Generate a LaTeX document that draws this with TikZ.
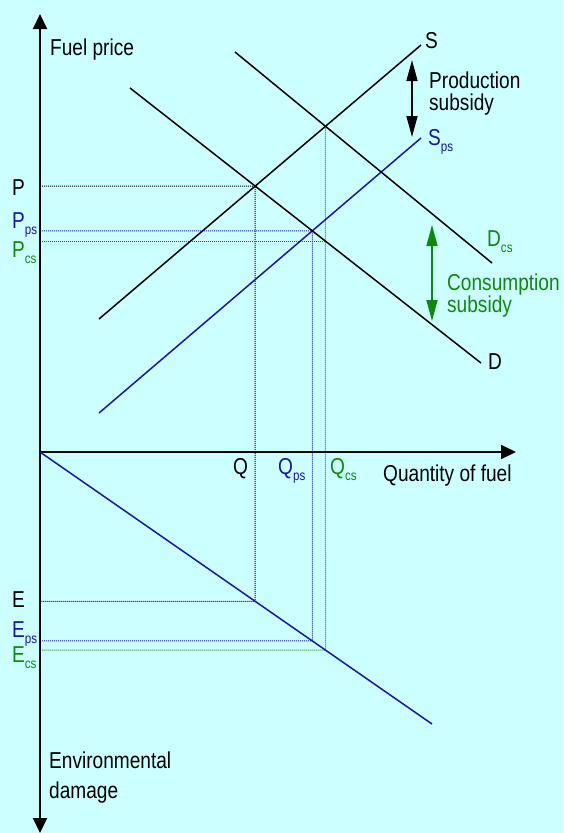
\documentclass[tikz,border=0pt]{standalone}
\usepackage{fontspec}
\setmainfont{Liberation Sans}[FakeStretch=0.83]
\usetikzlibrary{arrows.meta}
\definecolor{bgcyan}{RGB}{204,255,255}
\definecolor{psblue}{RGB}{24,24,160}
\definecolor{csgreen}{RGB}{16,136,16}
\newcommand{\lowsub}[1]{\raisebox{-6pt}{\fontsize{14}{14}\selectfont #1}}
\tikzset{
  bigtip/.tip={Triangle[length=15pt,width=14pt]},
  subtip/.tip={Triangle[length=21pt,width=11pt]},
  axis/.style={line width=2pt},
  curve/.style={line width=1.5pt},
  guide/.style={line width=1pt,dash pattern=on 1pt off 1pt},
  subsidy/.style={line width=1.5pt,subtip-subtip},
  lbl/.style={anchor=base west,inner sep=0pt,align=left,font=\fontsize{23}{22}\selectfont},
}

\begin{document}
\begin{tikzpicture}[x=1pt,y=-1pt]
        \useasboundingbox (0,0) rectangle (563,833);
        \fill[bgcyan] (0,0) rectangle (563,833);
        % curve end points
        \coordinate (O) at (40,452);
        \coordinate (s0) at (99,319);
        \coordinate (s1) at (421,45);
        \coordinate (sps0) at (99,413);
        \coordinate (sps1) at (421,138);
        \coordinate (d0) at (130,88);
        \coordinate (d1) at (481,363);
        \coordinate (dcs0) at (235,52);
        \coordinate (dcs1) at (492,263);
        \coordinate (env1) at (432,724);
        % equilibria
        \coordinate (eq) at (intersection of s0--s1 and d0--d1);
        \coordinate (eqps) at (intersection of sps0--sps1 and d0--d1);
        \coordinate (eqcs) at (intersection of s0--s1 and dcs0--dcs1);
        \coordinate (q) at (eq |- O);
        \coordinate (qps) at (eqps |- O);
        \coordinate (qcs) at (eqcs |- O);
        \coordinate (pcs) at (intersection of eqcs--qcs and d0--d1);
        \coordinate (dmg) at (intersection of eq--q and O--env1);
        \coordinate (dmgps) at (intersection of eqps--qps and O--env1);
        \coordinate (dmgcs) at (intersection of eqcs--qcs and O--env1);
        % guide lines
        \draw[guide] (eq -| O) -- (eq) -- (dmg) -- (dmg -| O);
        \draw[guide,psblue] (eqps -| O) -- (eqps) -- (dmgps) -- (dmgps -| O);
        \draw[guide,csgreen] (pcs -| O) -- (pcs);
        \draw[guide,csgreen] (eqcs) -- (dmgcs) -- (dmgcs -| O);
        % axes
        \draw[axis,bigtip-bigtip] (40,833) -- (40,14);
        \draw[axis,-bigtip] (O) -- (516,452);
        % supply, demand, damage
        \draw[curve] (s0) -- (s1);
        \draw[curve,psblue] (sps0) -- (sps1);
        \draw[curve] (d0) -- (d1);
        \draw[curve] (dcs0) -- (dcs1);
        \draw[curve,psblue] (O) -- (env1);
        % subsidies
        \draw[subsidy] (412,60) -- (412,137);
        \draw[subsidy,csgreen] (432,225) -- (432,321);
        % labels
        \node[lbl] (fuelprice) at (50,55) {Fuel price};
        \node[lbl] (lblS) at (425,48) {S};
        \node[lbl] (prodsub) at (429,110) {Production\\subsidy};
        \node[lbl,psblue] (lblSps) at (428,145) {S\lowsub{ps}};
        \node[lbl,csgreen] (lblDcs) at (487,246) {D\lowsub{cs}};
        \node[lbl,csgreen] (conssub) at (447,312) {Consumption\\subsidy};
        \node[lbl] (lblD) at (488,369) {D};
        \node[lbl] (lblP) at (12,195) {P};
        \node[lbl,psblue] (lblPps) at (12,228) {P\lowsub{ps}};
        \node[lbl,csgreen] (lblPcs) at (12,257) {P\lowsub{cs}};
        \node[lbl] (lblQ) at (233,474) {Q};
        \node[lbl,psblue] (lblQps) at (278,474) {Q\lowsub{ps}};
        \node[lbl,csgreen] (lblQcs) at (330,474) {Q\lowsub{cs}};
        \node[lbl] (quantity) at (383,481) {Quantity of fuel};
        \node[lbl] (lblE) at (12,607) {E};
        \node[lbl,psblue] (lblEps) at (12,637) {E\lowsub{ps}};
        \node[lbl,csgreen] (lblEcs) at (12,662) {E\lowsub{cs}};
        \node[lbl] (envdamage) at (49,798) {Environmental\\[8pt]damage};
    \end{tikzpicture}
\end{document}
